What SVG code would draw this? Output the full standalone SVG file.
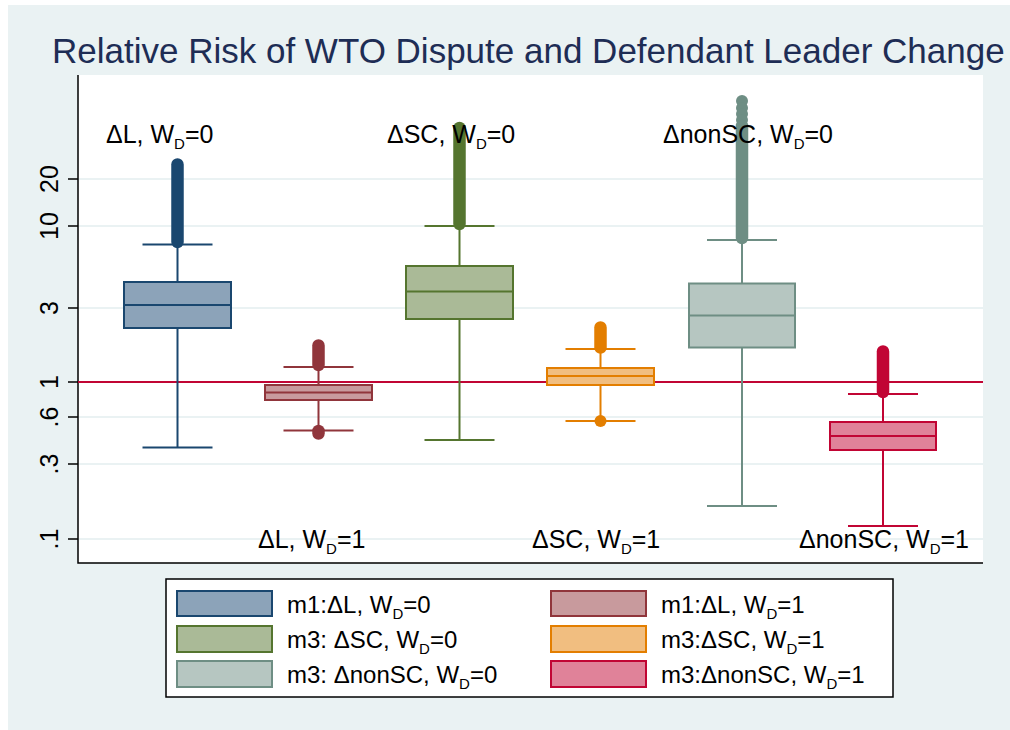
<svg xmlns="http://www.w3.org/2000/svg" width="1010" height="730" viewBox="0 0 1010 730">
<style>
text{font-family:"Liberation Sans",Arial,Helvetica,sans-serif;fill:#000}
.title{font-size:35px;fill:#1E2D55}
.tick{font-size:25px;text-anchor:middle}
.lab{font-size:25px}
.leg{font-size:24px}
.sub{font-size:15px}
.grid{stroke:#EAF2F3;stroke-width:2}
.axis{stroke:#000;stroke-width:1.5;fill:none}
.tk{stroke:#000;stroke-width:1.5}
.ref{stroke:#C10534;stroke-width:2}
.bx rect{stroke-width:2}
.bx line{stroke-width:2}
.bx .out{stroke-width:12.5;stroke-linecap:round}
.c1{stroke:#1A476F;fill:#8CA3B9}
.c2{stroke:#90353B;fill:#C89A9D}
.c3{stroke:#55752F;fill:#AABA97}
.c4{stroke:#E37E00;fill:#F1BE80}
.c5{stroke:#6E8E84;fill:#B6C6C1}
.c6{stroke:#C10534;fill:#E08299}
</style>
<rect x="0" y="0" width="1010" height="730" fill="#FFFFFF"/>
<rect x="8" y="5" width="1002" height="725" fill="#EAF2F3"/>
<rect x="78" y="75" width="905" height="488" fill="#FFFFFF"/>
<text class="title" x="52" y="63">Relative Risk of WTO Dispute and Defendant Leader Change</text>

<g id="grid">
<line class="grid" x1="78" y1="179" x2="983" y2="179"/>
<line class="grid" x1="78" y1="226" x2="983" y2="226"/>
<line class="grid" x1="78" y1="308" x2="983" y2="308"/>
<line class="grid" x1="78" y1="417" x2="983" y2="417"/>
<line class="grid" x1="78" y1="464" x2="983" y2="464"/>
<line class="grid" x1="78" y1="539" x2="983" y2="539"/>
</g>

<g id="axes">
<path class="axis" d="M78 75 V563 H983"/>
<line class="tk" x1="68" y1="179" x2="78" y2="179"/>
<line class="tk" x1="68" y1="226" x2="78" y2="226"/>
<line class="tk" x1="68" y1="308" x2="78" y2="308"/>
<line class="tk" x1="68" y1="382" x2="78" y2="382"/>
<line class="tk" x1="68" y1="417" x2="78" y2="417"/>
<line class="tk" x1="68" y1="464" x2="78" y2="464"/>
<line class="tk" x1="68" y1="539" x2="78" y2="539"/>
<text class="tick" transform="translate(58,179) rotate(-90)">20</text>
<text class="tick" transform="translate(58,226) rotate(-90)">10</text>
<text class="tick" transform="translate(58,308) rotate(-90)">3</text>
<text class="tick" transform="translate(58,382) rotate(-90)">1</text>
<text class="tick" transform="translate(58,417) rotate(-90)">.6</text>
<text class="tick" transform="translate(58,464) rotate(-90)">.3</text>
<text class="tick" transform="translate(58,539) rotate(-90)">.1</text>
</g>

<g id="connectors">
<line class="ref" x1="78" y1="382" x2="983" y2="382"/>
</g>

<g id="box-dL-0" class="bx c1">
<line x1="177.5" y1="282" x2="177.5" y2="244.5"/>
<line x1="177.5" y1="328" x2="177.5" y2="447.5"/>
<line x1="142.5" y1="244.5" x2="212.5" y2="244.5"/>
<line x1="142.5" y1="447.5" x2="212.5" y2="447.5"/>
<rect x="124" y="282" width="107" height="46"/>
<line x1="124" y1="305" x2="231" y2="305"/>
<line class="out" x1="177.5" y1="164.5" x2="177.5" y2="242"/>
</g>

<g id="box-dL-1" class="bx c2">
<line x1="318.5" y1="385" x2="318.5" y2="367"/>
<line x1="318.5" y1="400" x2="318.5" y2="430.5"/>
<line x1="283.5" y1="367" x2="353.5" y2="367"/>
<line x1="283.5" y1="430.5" x2="353.5" y2="430.5"/>
<rect x="265" y="385" width="107" height="15"/>
<line x1="265" y1="392.5" x2="372" y2="392.5"/>
<line class="out" x1="318.5" y1="345.5" x2="318.5" y2="365"/>
<line class="out" x1="318.5" y1="431" x2="318.5" y2="433.5"/>
</g>

<g id="box-dSC-0" class="bx c3">
<line x1="459.5" y1="266" x2="459.5" y2="226"/>
<line x1="459.5" y1="319" x2="459.5" y2="440"/>
<line x1="424.5" y1="226" x2="494.5" y2="226"/>
<line x1="424.5" y1="440" x2="494.5" y2="440"/>
<rect x="406" y="266" width="107" height="53"/>
<line x1="406" y1="291.5" x2="513" y2="291.5"/>
<line class="out" x1="459.5" y1="128" x2="459.5" y2="224"/>
</g>

<g id="box-dSC-1" class="bx c4">
<line x1="600.5" y1="368" x2="600.5" y2="349"/>
<line x1="600.5" y1="385" x2="600.5" y2="421"/>
<line x1="565.5" y1="349" x2="635.5" y2="349"/>
<line x1="565.5" y1="421" x2="635.5" y2="421"/>
<rect x="547" y="368" width="107" height="17"/>
<line x1="547" y1="376" x2="654" y2="376"/>
<line class="out" x1="600.5" y1="327.5" x2="600.5" y2="347.5"/>
<circle cx="600.5" cy="421" r="6" style="fill:#E37E00;stroke:none"/>
</g>

<g id="box-dnonSC-0" class="bx c5">
<line x1="742" y1="283.5" x2="742" y2="240"/>
<line x1="742" y1="347.5" x2="742" y2="506"/>
<line x1="707" y1="240" x2="777" y2="240"/>
<line x1="707" y1="506" x2="777" y2="506"/>
<rect x="689" y="283.5" width="106" height="64"/>
<line x1="689" y1="315.5" x2="795" y2="315.5"/>
<circle cx="742" cy="101" r="6" style="fill:#6E8E84;stroke:none"/>
<circle cx="742" cy="108" r="6" style="fill:#6E8E84;stroke:none"/>
<circle cx="742" cy="114" r="6" style="fill:#6E8E84;stroke:none"/>
<circle cx="742" cy="120" r="6" style="fill:#6E8E84;stroke:none"/>
<line class="out" x1="742" y1="126" x2="742" y2="238"/>
</g>

<g id="box-dnonSC-1" class="bx c6">
<line x1="883" y1="422" x2="883" y2="394"/>
<line x1="883" y1="450" x2="883" y2="526"/>
<line x1="848" y1="394" x2="918" y2="394"/>
<line x1="848" y1="526" x2="918" y2="526"/>
<rect x="830" y="422" width="106" height="28"/>
<line x1="830" y1="436" x2="936" y2="436"/>
<line class="out" x1="883" y1="351.5" x2="883" y2="392"/>
</g>

<g id="labels">
<text class="lab" x="106" y="143">ΔL, W<tspan class="sub" dy="6">D</tspan><tspan dy="-6">=0</tspan></text>
<text class="lab" x="387" y="143">ΔSC, W<tspan class="sub" dy="6">D</tspan><tspan dy="-6">=0</tspan></text>
<text class="lab" x="663" y="143">ΔnonSC, W<tspan class="sub" dy="6">D</tspan><tspan dy="-6">=0</tspan></text>
<text class="lab" x="258" y="548">ΔL, W<tspan class="sub" dy="6">D</tspan><tspan dy="-6">=1</tspan></text>
<text class="lab" x="532" y="548">ΔSC, W<tspan class="sub" dy="6">D</tspan><tspan dy="-6">=1</tspan></text>
<text class="lab" x="799" y="548">ΔnonSC, W<tspan class="sub" dy="6">D</tspan><tspan dy="-6">=1</tspan></text>
</g>

<g id="legend">
<rect x="166" y="579" width="727" height="118" fill="#FFFFFF" stroke="#000" stroke-width="1.5"/>
<g class="bx">
<rect class="c1" x="177" y="591" width="95" height="25"/>
<rect class="c3" x="177" y="626" width="95" height="26"/>
<rect class="c5" x="177" y="661" width="95" height="26"/>
<rect class="c2" x="551" y="591" width="95" height="25"/>
<rect class="c4" x="551" y="626" width="95" height="26"/>
<rect class="c6" x="551" y="661" width="95" height="26"/>
</g>
<text class="leg" x="287" y="613">m1:ΔL, W<tspan class="sub" dy="6">D</tspan><tspan dy="-6">=0</tspan></text>
<text class="leg" x="287" y="648">m3: ΔSC, W<tspan class="sub" dy="6">D</tspan><tspan dy="-6">=0</tspan></text>
<text class="leg" x="287" y="683">m3: ΔnonSC, W<tspan class="sub" dy="6">D</tspan><tspan dy="-6">=0</tspan></text>
<text class="leg" x="661" y="613">m1:ΔL, W<tspan class="sub" dy="6">D</tspan><tspan dy="-6">=1</tspan></text>
<text class="leg" x="661" y="648">m3:ΔSC, W<tspan class="sub" dy="6">D</tspan><tspan dy="-6">=1</tspan></text>
<text class="leg" x="661" y="683">m3:ΔnonSC, W<tspan class="sub" dy="6">D</tspan><tspan dy="-6">=1</tspan></text>
</g>
</svg>
